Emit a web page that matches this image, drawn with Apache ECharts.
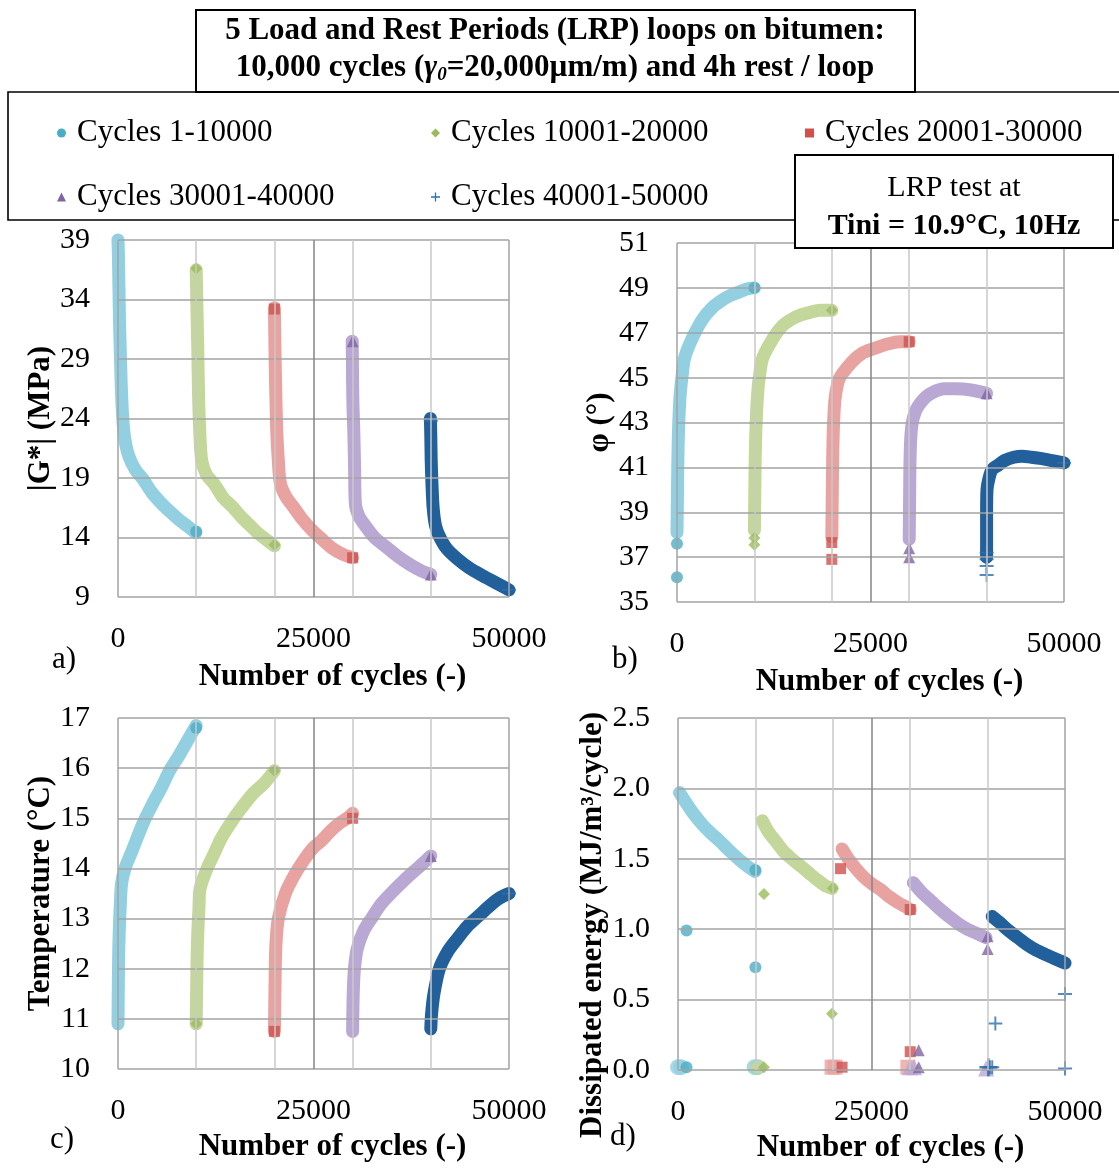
<!DOCTYPE html>
<html><head><meta charset="utf-8">
<script src="https://cdn.jsdelivr.net/npm/echarts@6/dist/echarts.min.js"></script>
<style>html,body{margin:0;padding:0;background:#fff}#c{width:1119px;height:1169px}</style>
</head><body><div id="c"></div><script>
// ---------- data ----------
const loopNames = ['Cycles 1-10000','Cycles 10001-20000','Cycles 20001-30000','Cycles 30001-40000','Cycles 40001-50000'];
const xTicks = [0, 25000, 50000];
const xMinorLines = [10000, 20000, 30000, 40000];
const gTicks = [9,14,19,24,29,34,39];
const phiTicks = [35,37,39,41,43,45,47,49,51];
const tempTicks = [10,11,12,13,14,15,16,17];
const energyTicks = [0,0.5,1,1.5,2,2.5];

// a) |G*| (MPa)
const gBody = [
 [[0,39],[60,37.5],[120,35],[200,32],[300,29.5],[460,26],[700,23.2],[1000,21.8],[1400,20.8],[2200,19.7],[3200,18.9],[4300,17.8],[5500,16.9],[6600,16.2],[7800,15.5],[9000,14.9],[9950,14.4]],
 [[10000,36.5],[10050,35],[10100,33],[10200,30],[10300,26],[10450,23],[10700,20.5],[11300,19.3],[12300,18.5],[13500,17.3],[14600,16.6],[15800,15.7],[16900,15.0],[18000,14.3],[19000,13.8],[20000,13.3]],
 [[20000,33.3],[20050,31],[20100,28.7],[20200,25.5],[20300,23],[20500,20.5],[20780,18.5],[21500,17.4],[22400,16.6],[23500,15.6],[24700,14.7],[26000,13.9],[27400,13.1],[28700,12.6],[30000,12.3]],
 [[29950,30.5],[29980,28.5],[30000,27],[30050,25],[30150,23],[30250,20],[30360,16.8],[30800,15.8],[31500,15.1],[32800,14.0],[34300,13.2],[35800,12.4],[37400,11.7],[38800,11.2],[40000,10.9]],
 [[39950,24.0],[40000,22.5],[40050,20.5],[40150,18.5],[40300,16.5],[40600,15],[41100,14.1],[42000,13.1],[43400,12.2],[45000,11.4],[46600,10.8],[48300,10.2],[50000,9.6]]
];
const gPts = [
 [[10000,14.5]],
 [[10000,36.6],[20000,13.4]],
 [[20000,33.2],[30000,12.3]],
 [[30000,30.5],[40000,10.9]],
 [[40000,23.8],[50000,9.6]]
];

// b) phase angle (°)
const phiBody = [
 [[0,38.1],[50,39.5],[100,41],[200,42.7],[400,44.2],[700,45.2],[1000,45.9],[1900,46.7],[3300,47.6],[4500,48.1],[5600,48.4],[6800,48.65],[7900,48.8],[9000,48.95],[10000,49.0]],
 [[10000,38.2],[10050,39.8],[10100,41.3],[10200,42.7],[10400,44.2],[10700,45.2],[11100,45.9],[12500,46.8],[13600,47.3],[14800,47.6],[16000,47.8],[17100,47.9],[18500,48.0],[20000,48.0]],
 [[20000,37.9],[20050,39.5],[20100,41],[20200,42.7],[20400,44.0],[20800,44.8],[21200,45.1],[22600,45.7],[24000,46.1],[25500,46.3],[27200,46.5],[28800,46.6],[30000,46.6]],
 [[30000,37.8],[30050,39.5],[30100,41.2],[30200,42.3],[30400,43.0],[30800,43.5],[31300,43.8],[32200,44.15],[33100,44.35],[34500,44.5],[36000,44.5],[38000,44.45],[40000,44.3]],
 [[40000,37.0],[40000,38.9],[40050,40.0],[40300,40.5],[40700,40.9],[41500,41.1],[42300,41.3],[43500,41.45],[44600,41.5],[45800,41.45],[46900,41.4],[48500,41.3],[50000,41.2]]
];
const phiPts = [
 [[0,36.1],[0,37.6],[10000,49.0]],
 [[10000,37.55],[10000,37.85],[20000,48.0]],
 [[20000,36.9],[20000,37.65],[30000,46.6]],
 [[30000,37.0],[30000,37.4],[40000,44.3]],
 [[40000,36.2],[40000,36.6],[40000,36.9],[40000,37.2],[50000,41.2]]
];

// c) temperature (°C)
const tempBody = [
 [[0,10.9],[30,11.5],[80,12.2],[150,12.7],[300,13.3],[460,13.7],[900,14.0],[1800,14.35],[3200,14.9],[4300,15.25],[5500,15.6],[6600,15.95],[7800,16.25],[8900,16.55],[10000,16.85]],
 [[10000,10.9],[10050,11.5],[10100,12.1],[10200,12.7],[10350,13.2],[10500,13.6],[11400,14.0],[12300,14.3],[13200,14.6],[14600,14.95],[16000,15.25],[17300,15.5],[18700,15.7],[20000,15.95]],
 [[20000,10.75],[20050,11.3],[20100,11.9],[20200,12.5],[20500,13.0],[21400,13.5],[22500,13.85],[23700,14.15],[24900,14.4],[26000,14.55],[27200,14.75],[28300,14.9],[29300,15.0],[30000,15.1]],
 [[30000,10.75],[30050,11.3],[30150,11.8],[30300,12.1],[30600,12.4],[31400,12.75],[32400,13.0],[33700,13.3],[35200,13.55],[36500,13.75],[37900,13.95],[39000,14.1],[40000,14.25]],
 [[40000,10.8],[40100,11.1],[40400,11.5],[41100,12.0],[42200,12.35],[43400,12.6],[44700,12.85],[46100,13.05],[47500,13.25],[48700,13.4],[50000,13.5]]
];
const tempPts = [
 [[10000,16.8]],
 [[10000,10.9],[20000,15.95]],
 [[20000,10.75],[30000,15.0]],
 [[40000,14.25]],
 [[50000,13.5]]
];

// d) dissipated energy (MJ/m3/cycle)
const energyBody = [
 [[200,1.97],[900,1.91],[2000,1.82],[3200,1.74],[4300,1.68],[5500,1.62],[6600,1.56],[7800,1.5],[8900,1.45],[9950,1.41]],
 [[10900,1.77],[11700,1.69],[12700,1.62],[13700,1.55],[14700,1.5],[15800,1.45],[16900,1.4],[18000,1.35],[19000,1.31],[19900,1.29]],
 [[21200,1.57],[22000,1.5],[23000,1.43],[24000,1.37],[25100,1.32],[26200,1.28],[27300,1.23],[28400,1.19],[29400,1.16],[30000,1.14]],
 [[30400,1.33],[31500,1.26],[32700,1.2],[33900,1.14],[35000,1.09],[36200,1.04],[37400,1.0],[38600,0.97],[39800,0.94]],
 [[40600,1.09],[41500,1.05],[42700,0.99],[43900,0.94],[45100,0.89],[46300,0.85],[47500,0.82],[48700,0.79],[50000,0.76]]
];
const energyPts = [
 [[10000,1.42],[1100,0.99],[10000,0.73],[1100,0.02]],
 [[20000,1.29],[11100,1.25],[19900,0.40],[11100,0.02]],
 [[30000,1.14],[21000,1.43],[30000,0.13],[21200,0.02]],
 [[40000,0.95],[40000,0.86],[31100,0.14],[31100,0.02]],
 [[41000,0.33],[50000,0.54],[40300,0.02],[40600,0.02],[50000,0.01]]
];
const energyLightPts = [
 [[0,0.02],[400,0.02],[9900,0.02],[10300,0.02]],
 [[10100,0.02],[10500,0.02]],
 [[19900,0.02],[20300,0.02],[29700,0.02]],
 [[30000,0.02],[30500,0.02],[39800,0.01]],
 [[40100,0.02]]
];

// ---------- styles ----------
const FONT = '"Liberation Serif", "Times New Roman", serif';
const lightCol = ['#91cfe1','#c3d79b','#e8a3a0','#baa8d4','#22609c'];
const darkCol  = ['#4bacc6','#9bbb59','#d0504d','#8064a2','#2d6eb0'];
const plusPath = 'path://M4.3,0H5.7V4.3H10V5.7H5.7V10H4.3V5.7H0V4.3H4.3Z';
const syms = ['circle','diamond','rect','triangle',plusPath];
const symSize = [12,12,11,12,14];

const panels = [
 {grid:{left:118,top:240,width:391,height:357}, min:9,max:39, ticks:gTicks, body:gBody, pts:gPts, light:null,
  yName:'|G*| (MPa)', yGap:45, yPad:[0,0,0,0], fmt:v=>String(v), xGap:64, label:'a)', lx:52, ly:660},
 {grid:{left:677,top:243,width:387,height:359}, min:35,max:51, ticks:phiTicks, body:phiBody, pts:phiPts, light:null,
  yName:'φ (°)', yGap:61, yPad:[0,0,0,0], fmt:v=>String(v), xGap:64, label:'b)', lx:612, ly:660},
 {grid:{left:118,top:718,width:391,height:351}, min:10,max:17, ticks:tempTicks, body:tempBody, pts:tempPts, light:null,
  yName:'Temperature (°C)', yGap:62, yPad:[0,0,0,0], fmt:v=>String(v), xGap:62, label:'c)', lx:50, ly:1140},
 {grid:{left:678,top:718,width:387,height:352}, min:0,max:2.5, ticks:energyTicks, body:energyBody, pts:energyPts, light:energyLightPts,
  yName:'Dissipated energy (MJ/m³/cycle)', yGap:65, yPad:[0,62,0,0], fmt:v=>v.toFixed(1), xGap:62, label:'d)', lx:610, ly:1137}
];

const grids=[], xAxes=[], yAxes=[], series=[], graphics=[];
panels.forEach((p,i)=>{
  grids.push(p.grid);
  xAxes.push({gridIndex:i, type:'value', min:0, max:50000, interval:25000,
    axisLine:{show:false}, axisTick:{show:false}, splitLine:{show:false},
    axisLabel:{margin:27, fontSize:30, fontFamily:FONT, color:'#000', formatter:v=>String(v)},
    name:'Number of cycles (-)', nameLocation:'middle', nameGap:p.xGap,
    nameTextStyle:{fontSize:31, fontWeight:'bold', fontFamily:FONT, color:'#000', padding:[0,0,0,38]}});
  yAxes.push({gridIndex:i, type:'value', min:p.min, max:p.max,
    axisLine:{show:false}, axisTick:{show:false}, splitLine:{show:false},
    axisLabel:{customValues:p.ticks, margin:28, fontSize:30, fontFamily:FONT, color:'#000', formatter:p.fmt},
    name:p.yName, nameLocation:'middle', nameGap:p.yGap,
    nameTextStyle:{fontSize:31, fontWeight:'bold', fontFamily:FONT, color:'#000', padding:p.yPad}});
  // gridlines
  const ml = [];
  p.ticks.forEach(v=>ml.push({yAxis:v, lineStyle:{color:'#a3a3a3', width:1.5, type:'solid'}}));
  xMinorLines.forEach(v=>ml.push({xAxis:v, lineStyle:{color:'#c9c9c9', width:1.5, type:'solid'}}));
  xTicks.forEach(v=>ml.push({xAxis:v, lineStyle:{color: v===25000?'#858585':'#a3a3a3', width:1.5, type:'solid'}}));
  series.push({type:'line', xAxisIndex:i, yAxisIndex:i, data:[], silent:true, z:1,
    markLine:{silent:true, symbol:['none','none'], label:{show:false}, emphasis:{disabled:true}, data:ml}});
  for(let k=0;k<5;k++){
    series.push({type:'line', name:loopNames[k], xAxisIndex:i, yAxisIndex:i, data:p.body[k],
      showSymbol:false, smooth:0.3, clip:false, z:3, silent:true,
      lineStyle:{color:lightCol[k], width:13, cap:'round', join:'round'}, itemStyle:{color:lightCol[k]}});
    if(p.light){
      series.push({type:'scatter', name:loopNames[k], xAxisIndex:i, yAxisIndex:i, data:p.light[k],
        symbol:syms[k], symbolSize:symSize[k]+4, clip:false, z:3, silent:true, itemStyle:{color:lightCol[k]}});
    }
    series.push({type:'scatter', name:loopNames[k], xAxisIndex:i, yAxisIndex:i, data:p.pts[k],
      symbol:syms[k], symbolSize:symSize[k], clip:false, z:4, silent:true, itemStyle:{color:darkCol[k]}});
  }
  graphics.push({type:'text', x:p.lx, y:p.ly, z:50, style:{text:p.label, font:'31px '+FONT, fill:'#000', textAlign:'left', textVerticalAlign:'middle'}});
});

// boxes and texts
graphics.push({type:'rect', z:40, shape:{x:8, y:92, width:1130, height:128}, style:{fill:'#fff', stroke:'#000', lineWidth:1.6}});
graphics.push({type:'rect', z:41, shape:{x:196, y:10, width:719, height:82}, style:{fill:'#fff', stroke:'#000', lineWidth:2}});
graphics.push({type:'text', z:42, x:555, y:31, style:{text:'5 Load and Rest Periods (LRP) loops on bitumen:', font:'bold 31px '+FONT, fill:'#000', textAlign:'center', textVerticalAlign:'middle'}});
graphics.push({type:'text', z:42, x:555, y:68, style:{text:'10,000 cycles ({g|γ}{s|0}=20,000µm/m) and 4h rest / loop', font:'bold 31px '+FONT, fill:'#000', textAlign:'center', textVerticalAlign:'middle',
  rich:{g:{fontStyle:'italic', fontWeight:'bold', fontSize:31, fontFamily:FONT}, s:{fontStyle:'italic', fontWeight:'bold', fontSize:19, fontFamily:FONT, verticalAlign:'bottom', padding:[14,0,0,0]}}}});
graphics.push({type:'rect', z:60, shape:{x:795, y:155, width:318, height:93}, style:{fill:'#fff', stroke:'#000', lineWidth:2}});
graphics.push({type:'text', z:61, x:954, y:188, style:{text:'LRP test at', font:'30px '+FONT, fill:'#000', textAlign:'center', textVerticalAlign:'middle'}});
graphics.push({type:'text', z:61, x:954, y:226, style:{text:'Tini = 10.9°C, 10Hz', font:'bold 30px '+FONT, fill:'#000', textAlign:'center', textVerticalAlign:'middle'}});

const legendPos = [[52,111],[426,111],[800,111],[52,175],[426,175]];
const legends = loopNames.map((n,k)=>({
  data:[{name:n, icon:syms[k], itemStyle:{color:darkCol[k]}}],
  left:legendPos[k][0], top:legendPos[k][1], itemWidth:9, itemHeight:9, itemGap:0, z:45,
  selectedMode:false, textStyle:{fontSize:31, fontFamily:FONT, color:'#000', lineHeight:34, padding:[0,0,0,6]}
}));

const chart = echarts.init(document.getElementById('c'), null, {renderer:'canvas'});
chart.setOption({
  animation:false, backgroundColor:'#fff',
  grid:grids, xAxis:xAxes, yAxis:yAxes, series:series, legend:legends, graphic:graphics
});
</script></body></html>
